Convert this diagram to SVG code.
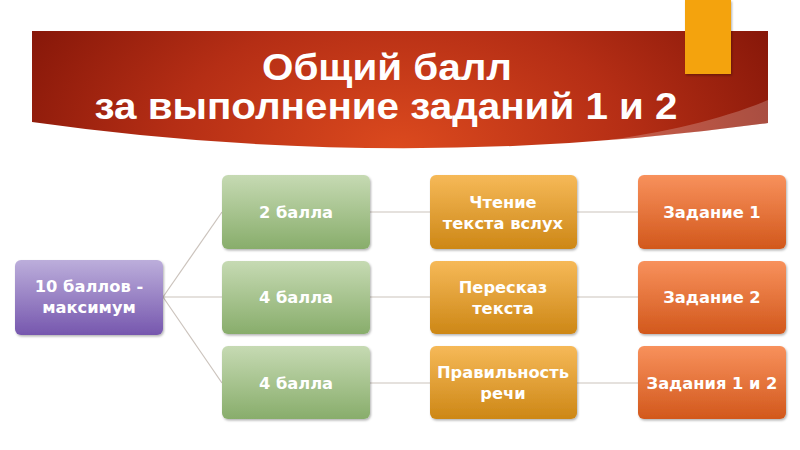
<svg xmlns="http://www.w3.org/2000/svg" width="800" height="450" viewBox="0 0 800 450">
<defs>
<radialGradient id="gBanner" cx="400" cy="150" r="420" gradientUnits="userSpaceOnUse" gradientTransform="translate(0,150) scale(1,0.6) translate(0,-150)">
<stop offset="0" stop-color="#dc4a1e"/>
<stop offset="0.55" stop-color="#b52e15"/>
<stop offset="1" stop-color="#861709"/>
</radialGradient>
<linearGradient id="gPurple" x1="0" y1="0" x2="0" y2="1">
<stop offset="0" stop-color="#bcaedb"/>
<stop offset="1" stop-color="#7657ae"/>
</linearGradient>
<linearGradient id="gGreen" x1="0" y1="0" x2="0" y2="1">
<stop offset="0" stop-color="#c6dab3"/>
<stop offset="1" stop-color="#88ad6b"/>
</linearGradient>
<linearGradient id="gOrange" x1="0" y1="0" x2="0" y2="1">
<stop offset="0" stop-color="#f6b958"/>
<stop offset="1" stop-color="#cd8716"/>
</linearGradient>
<linearGradient id="gRed" x1="0" y1="0" x2="0" y2="1">
<stop offset="0" stop-color="#f8915c"/>
<stop offset="1" stop-color="#d2581c"/>
</linearGradient>
<filter id="sh" x="-10%" y="-10%" width="125%" height="130%">
<feDropShadow dx="1" dy="1.5" stdDeviation="1.2" flood-color="#000" flood-opacity="0.3"/>
</filter>
</defs>
<style>
.node{stroke:none;filter:url(#sh)}
.lbl{font-family:"DejaVu Sans","Liberation Sans",sans-serif;font-weight:bold;font-size:16.3px;fill:#fff;text-anchor:middle}
.title{font-family:"Liberation Sans","DejaVu Sans",sans-serif;font-weight:bold;font-size:37px;fill:#fff;text-anchor:middle}
.conn{stroke:#cbc3bc;stroke-width:1.2;fill:none}
</style>
<rect width="800" height="450" fill="#fff"/>
<g id="banner">
<path d="M32,31 H768 V123 Q400,174 32,122 Z" fill="url(#gBanner)"/>
<path d="M768,100 C725,118 665,133 600,141 Q690,134 768,123 Z" fill="#fff" fill-opacity="0.22"/>
<rect x="685" y="0" width="46" height="74" fill="#f4a30d" filter="url(#sh)"/>
<text class="title" x="387" y="80" textLength="250" lengthAdjust="spacingAndGlyphs">Общий балл</text>
<text class="title" x="386" y="119" textLength="583" lengthAdjust="spacingAndGlyphs">за выполнение заданий 1 и 2</text>
</g>
<g id="connectors">
<line class="conn" x1="163" y1="297" x2="222" y2="212"/>
<line class="conn" x1="163" y1="297" x2="222" y2="297"/>
<line class="conn" x1="163" y1="297" x2="222" y2="383"/>
<line class="conn" x1="370" y1="212" x2="430" y2="212"/>
<line class="conn" x1="370" y1="297" x2="430" y2="297"/>
<line class="conn" x1="370" y1="383" x2="430" y2="383"/>
<line class="conn" x1="577" y1="212" x2="638" y2="212"/>
<line class="conn" x1="577" y1="297" x2="638" y2="297"/>
<line class="conn" x1="577" y1="383" x2="638" y2="383"/>
</g>
<g id="n-root">
<rect class="node" x="15" y="260" width="148" height="75" rx="6" fill="url(#gPurple)"/>
<text class="lbl" x="89" y="292">10 баллов -</text>
<text class="lbl" x="89" y="313">максимум</text>
</g>
<g id="n-b1">
<rect class="node" x="222" y="175" width="148" height="74" rx="6" fill="url(#gGreen)"/>
<text class="lbl" x="296" y="218">2 балла</text>
</g>
<g id="n-b2">
<rect class="node" x="222" y="261" width="148" height="73" rx="6" fill="url(#gGreen)"/>
<text class="lbl" x="296" y="303">4 балла</text>
</g>
<g id="n-b3">
<rect class="node" x="222" y="346" width="148" height="73" rx="6" fill="url(#gGreen)"/>
<text class="lbl" x="296" y="389">4 балла</text>
</g>
<g id="n-s1">
<rect class="node" x="430" y="175" width="147" height="74" rx="6" fill="url(#gOrange)"/>
<text class="lbl" x="503" y="208">Чтение</text>
<text class="lbl" x="503" y="229">текста вслух</text>
</g>
<g id="n-s2">
<rect class="node" x="430" y="261" width="147" height="73" rx="6" fill="url(#gOrange)"/>
<text class="lbl" x="503" y="293">Пересказ</text>
<text class="lbl" x="503" y="314">текста</text>
</g>
<g id="n-s3">
<rect class="node" x="430" y="346" width="147" height="73" rx="6" fill="url(#gOrange)"/>
<text class="lbl" x="503" y="378">Правильность</text>
<text class="lbl" x="503" y="399">речи</text>
</g>
<g id="n-t1">
<rect class="node" x="638" y="175" width="148" height="74" rx="6" fill="url(#gRed)"/>
<text class="lbl" x="712" y="218">Задание 1</text>
</g>
<g id="n-t2">
<rect class="node" x="638" y="261" width="148" height="73" rx="6" fill="url(#gRed)"/>
<text class="lbl" x="712" y="303">Задание 2</text>
</g>
<g id="n-t3">
<rect class="node" x="638" y="346" width="148" height="73" rx="6" fill="url(#gRed)"/>
<text class="lbl" x="712" y="389">Задания 1 и 2</text>
</g>
</svg>
